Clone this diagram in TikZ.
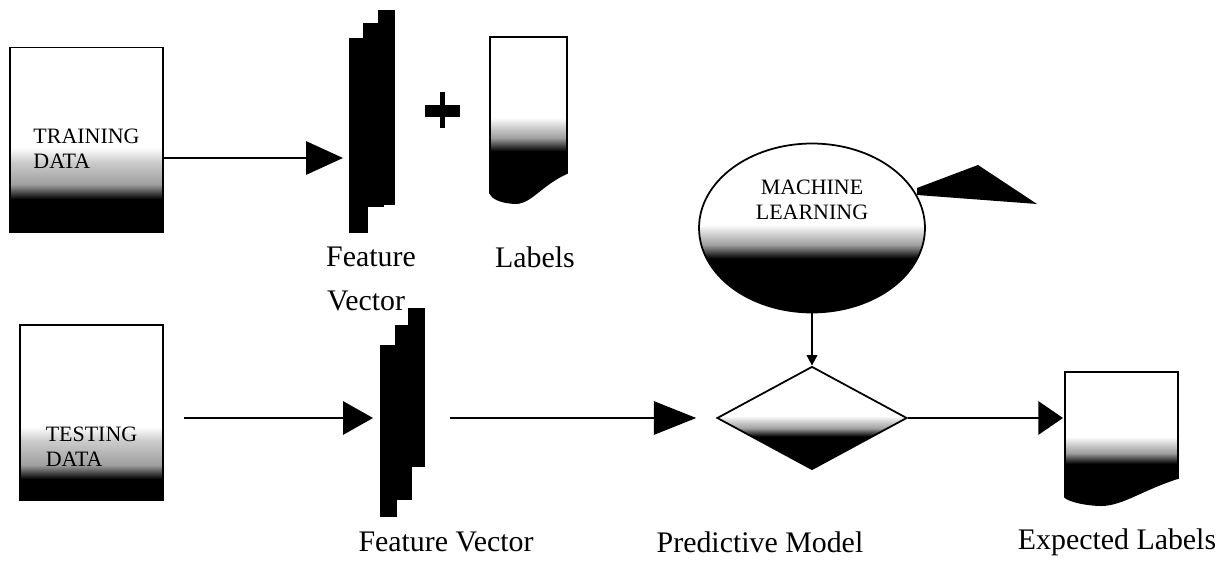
\documentclass[tikz,border=0pt]{standalone}
\usepackage{fontspec}
\setmainfont{Liberation Serif}
\usetikzlibrary{arrows.meta,positioning,shapes.geometric,calc}

\pgfdeclareverticalshading{boxfade}{100bp}{color(0bp)=(black); color(34bp)=(black); color(38bp)=(gray!75); color(44bp)=(gray!40); color(48bp)=(white); color(100bp)=(white)}
\pgfdeclareverticalshading{testfade}{100bp}{color(0bp)=(black); color(31bp)=(black); color(35bp)=(gray!75); color(42bp)=(gray!40); color(46bp)=(white); color(100bp)=(white)}
\pgfdeclareverticalshading{docfade}{100bp}{color(0bp)=(black); color(41bp)=(black); color(45bp)=(gray!75); color(48bp)=(gray!40); color(51bp)=(white); color(100bp)=(white)}

\tikzset{
  databox/.style={rectangle, draw=black, line width=1pt, shade, shading=boxfade, inner sep=0pt},
  boxtext/.style={font=\fontsize{12.5}{14}\selectfont, align=left},
  captext/.style={font=\fontsize{17}{19}\selectfont},
  bigarrow/.style={-{Triangle[length=#1, width=19pt]}, line width=0.8pt},
  bigarrow/.default=20pt,
  smallarrow/.style={-{Triangle[length=6pt, width=6pt]}, line width=1pt},
}

\begin{document}
\begin{tikzpicture}[x=0.02cm, y=-0.02cm]
  \useasboundingbox (0,0) rectangle (1231,567);

  % data boxes
  \node[databox, minimum width=3.06cm, minimum height=3.7cm,
        label={[boxtext, yshift=-0.18cm]center:TRAINING\\DATA}] (train) at (86.5,140) {};
  \node[databox, shading=testfade, minimum width=2.86cm, minimum height=3.5cm,
        label={[boxtext, yshift=-0.68cm]center:TESTING\\DATA}] (test) at (91.5,412.5) {};

  % feature vectors
  \fill (349,38) rectangle (368,233);
  \fill (363,23) rectangle (384,207);
  \fill (378,10) rectangle (395,205);
  \fill (380,345) rectangle (397,517);
  \fill (395,325) rectangle (412,500);
  \fill (408,308) rectangle (425,467);
  \coordinate (fvtop) at (343,158);
  \coordinate (fvbot) at (373,418);
  \coordinate (fvout) at (450,418);

  % plus
  \fill (440,92) rectangle (445,128);
  \fill (425,105) rectangle (460,117);

  % labels document
  \shade[shading=docfade, draw, line width=1pt] (490,37) -- (567,37) -- (567,173)
    .. controls (540,185) and (530,205) .. (513,203)
    .. controls (500,202) and (492,198) .. (490,193) -- cycle;

  % machine learning and model
  \node[ellipse, draw, line width=1pt, shade, shading=docfade, minimum width=4.52cm,
        minimum height=3.38cm, inner sep=0pt,
        label={[boxtext, align=center, yshift=0.56cm]center:MACHINE\\LEARNING}] (ml) at (812,228) {};
  \fill (917,188) -- (978,165) -- (1037,204) -- (917,195) -- cycle;
  \node[diamond, draw, line width=1pt, shade, shading=docfade, minimum width=3.8cm,
        minimum height=2.06cm, inner sep=0pt] (pm) at (812,418) {};

  % expected labels document
  \shade[shading=docfade, draw, line width=1pt] (1065,372) -- (1178,372) -- (1178,478)
    .. controls (1140,490) and (1120,507) .. (1097,505)
    .. controls (1080,504) and (1068,500) .. (1065,497) -- cycle;
  \coordinate (exp) at (1063,418);

  % arrows
  \draw[bigarrow=21pt] (train.east |- fvtop) -- (fvtop);
  \draw[bigarrow=17pt, shorten <=0.4cm] (test.east |- fvbot) -- (fvbot);
  \draw[bigarrow=24pt, shorten >=0.4cm] (fvout) -- (pm.west);
  \draw[bigarrow=14pt] (pm.east) -- (exp);
  \draw[smallarrow] (ml.south) -- (pm.north);

  % captions
  \node[captext] (ftcap) at (371,257) {Feature};
  \node[captext] (lbcap) at (535,257) {Labels};
  \node[captext] (vccap) at (366,301) {Vector};
  \node[captext] (fvcap) at (446,542) {Feature Vector};
  \node[captext] (pmcap) at (760,542) {Predictive Model};
  \node[captext] (elcap) at (1117,542) {Expected Labels};
\end{tikzpicture}
\end{document}
